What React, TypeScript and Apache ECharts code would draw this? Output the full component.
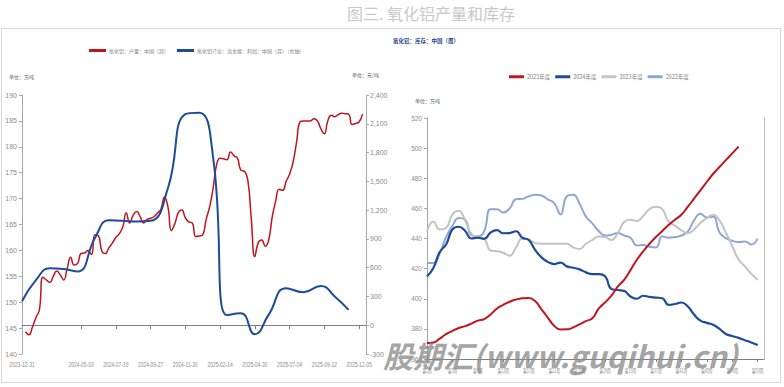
import React, { useEffect, useRef } from 'react';
import * as echarts from 'echarts';

// ---------- Left chart: production (weekly) & profit (monthly) ----------
const leftTickIndex = [0, 17, 27, 37, 47, 57, 67, 77, 87, 97];
const leftTickLabels = ['2023-12-31', '2024-05-03', '2024-07-19', '2024-09-27', '2024-11-30', '2025-02-14', '2025-04-30', '2025-07-04', '2025-09-12', '2025-12-05'];
const leftCategoryCount = 100;

const productionName = '氧化铝：产量：中国（周）';
const profitName = '氧化铝行业：冶金级：利润：中国（月）（右轴）';

const productionWeekly: (number | null)[] = [
  null, 144.3, 143.7, 145.2, 147, 148.5, 154.8, 154.3, 153.8, 155,
  156, 155.3, 154.3, 156.5, 158.7, 157.2, 157.5, 159.4, 159.5, 160,
  159.2, 163, 162.8, 159.8, 159.4, 160.5, 161.4, 162.5, 163.2, 164.5,
  167.2, 165.3, 166.8, 167.5, 166.5, 165.3, 166, 166.2, 166.5, 167.2,
  168, 170.3, 168.4, 163.8, 165.2, 167.3, 167.8, 166.3, 165.5, 165.3,
  162.7, 162.8, 163, 166, 168.4, 172, 176.5, 177.8, 177.7, 177.5,
  179, 178.3, 177.8, 175.5, 175.3, 173.5, 166, 158.8, 161.5, 162,
  160.8, 162, 166.4, 169.5, 171.8, 171.6, 173.3, 174.7, 177, 180.8,
  184.8, 185, 185, 185, 185.4, 185, 183.5, 182.5, 185, 186.1,
  185.8, 186.2, 186.5, 186.4, 186.3, 184.3, 184.5, 184.8, 186.3,
];

// [category index, value]
const profitMonthly: [number, number][] = [
  [0, 250], [4, 470], [8, 595], [12, 585], [16, 560], [21, 910], [25, 1095],
  [29, 1088], [33, 1082], [37, 1088], [42, 1430], [47, 2200], [51, 2215],
  [55, 1750], [59, 105], [63, 125], [67, -95], [71, 110], [76, 385],
  [81, 345], [86, 410], [90, 300], [94, 160],
];

// ---------- Right chart: inventory by week ----------
const weekCategories = Array.from({ length: 54 }, (_, i) => `第${i + 1}周`);
const weekTickIndex = [0, 4, 8, 12, 16, 20, 24, 28, 32, 36, 40, 44, 48, 52];
const yearNames = ['2025年度', '2024年度', '2023年度', '2022年度'];

const stock2025 = [
  370.6, 371, 373.5, 376.5, 378.7, 380.6, 381.8, 383.5, 385.5, 386.5,
  389.5, 393.5, 396, 398, 399.5, 400.3, 400.5, 398.5, 393, 387.5,
  382, 379.6, 379.7, 381, 383, 385.2, 387, 393.5, 397.5, 402,
  408, 412.6, 419, 425.9, 431.5, 436.5, 441, 445, 449, 452.5,
  455.8, 461, 466.5, 472, 477.5, 483, 487.5, 492, 496.5, 501,
];
const stock2024 = [
  414.8, 420.4, 431, 436, 446, 447.8, 445, 440, 440.5, 439.8,
  444, 445.5, 443.5, 443.6, 444.8, 440.5, 439, 432.5, 427.5, 424.5,
  423, 424, 421.5, 420.6, 419.5, 417.5, 416.3, 416.4, 415, 406.5,
  405.8, 405.2, 401.5, 400, 402, 401.2, 400.8, 400.3, 396, 396.5,
  397.5, 395, 389.5, 385.5, 384, 382.8, 380, 376.6, 375.3, 374,
  372.5, 371, 369.3,
];
const stock2023 = [
  444.7, 451.3, 446, 447, 456, 458.4, 452, 443, 440.5, 439.5,
  432, 431.5, 430.5, 428.5, 434, 440, 439.5, 437, 436.5, 436.5,
  436.5, 436.5, 436.5, 434, 433, 436.5, 439, 441.4, 441, 439,
  443.5, 451, 452.5, 451.5, 455, 459.5, 461, 459.5, 451, 448.5,
  445.5, 443.5, 446, 450.3, 453.5, 455.8, 452, 444, 435, 426,
  421.5, 416.5, 412.6,
];
const stock2022 = [
  423.7, 423.7, 430, 441, 448.5, 453.6, 452.5, 442, 441.4, 445,
  459.5, 459.5, 457.3, 460, 466, 466.3, 468, 469, 468.5, 466,
  463.5, 456, 468, 469, 463, 454.5, 450, 445, 442, 442.5,
  443.6, 442, 440.5, 435.4, 435.7, 434.5, 434, 441.5, 440.5, 441,
  442, 444.5, 452, 456.5, 454, 454.5, 444, 440.3, 438.5, 437.6,
  438, 436, 439.9,
];

const RED = '#C0151E';
const BLUE = '#1E4C98';
const GRAY = '#C3C3C3';
const LBLUE = '#8EA8D6';
const AXIS = '#A6A6A6';
const LABEL = '#8C8C8C';
const SANS = "'Liberation Sans', Arial, sans-serif";
const CJK = "'Noto Sans CJK SC', sans-serif";

export default function App() {
  const ref = useRef<HTMLDivElement>(null);

  useEffect(() => {
    if (!ref.current) return;
    const chart = echarts.init(ref.current, undefined, { renderer: 'svg' });
    const leftCats = Array.from({ length: leftCategoryCount }, (_, i) => String(i));
    const showLeftTick = (i: number) => leftTickIndex.includes(i);
    const yLabel = { color: LABEL, fontSize: 7, fontFamily: SANS };

    chart.setOption({
      animation: false,
      backgroundColor: '#ffffff',
      grid: [
        { left: 22, top: 95, width: 344, height: 259 },
        { left: 427, top: 118, width: 337, height: 241 },
      ],
      legend: [
        {
          data: [
            { name: productionName, icon: 'rect' },
            { name: profitName, icon: 'rect' },
          ],
          left: 89, top: 48, padding: 0, itemWidth: 17, itemHeight: 3, itemGap: 8,
          textStyle: { fontSize: 5, color: '#7f7f7f', fontFamily: CJK, padding: [0, 0, 0, -2] },
        },
        {
          data: yearNames.map((n) => ({ name: n, icon: 'rect' })),
          left: 509, top: 74, padding: 0, itemWidth: 15, itemHeight: 3, itemGap: 5,
          textStyle: { fontSize: 5.5, color: '#7f7f7f', fontFamily: CJK, padding: [0, 0, 0, -2] },
        },
      ],
      xAxis: [
        {
          type: 'category', gridIndex: 0, data: leftCats, boundaryGap: false,
          axisLine: { onZero: true, onZeroAxisIndex: 1, lineStyle: { color: '#7f7f7f', width: 1 } },
          axisTick: { show: true, interval: (i: number) => showLeftTick(i) && i > 0, length: 4, lineStyle: { color: '#7f7f7f' } },
          axisLabel: { show: false },
          splitLine: { show: false },
        },
        {
          type: 'category', gridIndex: 0, data: leftCats, boundaryGap: false, position: 'bottom',
          axisLine: { show: false, onZero: false },
          axisTick: { show: false },
          axisLabel: { show: false },
          splitLine: { show: false },
        },
        {
          type: 'category', gridIndex: 1, data: weekCategories, boundaryGap: false,
          axisLine: { lineStyle: { color: '#7f7f7f' } },
          axisTick: { interval: 3, length: 3, lineStyle: { color: '#7f7f7f' } },
          axisLabel: { show: false },
          splitLine: { show: false },
        },
      ],
      yAxis: [
        {
          type: 'value', gridIndex: 0, min: 140, max: 190, interval: 5, position: 'left',
          axisLine: { show: true, lineStyle: { color: AXIS } },
          axisTick: { show: true, length: 3, lineStyle: { color: AXIS } },
          axisLabel: { ...yLabel, margin: 5 },
          splitLine: { show: false },
        },
        {
          type: 'value', gridIndex: 0, min: -300, max: 2400, interval: 300, position: 'right',
          axisLine: { show: true, onZero: false, lineStyle: { color: AXIS } },
          axisTick: { show: true, length: 3, lineStyle: { color: AXIS } },
          axisLabel: {
            ...yLabel, margin: 4,
            formatter: (v: number) => v.toLocaleString('en-US'),
          },
          splitLine: { show: false },
        },
        {
          type: 'value', gridIndex: 1, min: 360, max: 520, interval: 20, position: 'left',
          axisLine: { show: true, lineStyle: { color: AXIS } },
          axisTick: { show: true, length: 3, lineStyle: { color: AXIS } },
          axisLabel: { ...yLabel, fontSize: 6.5, margin: 5 },
          splitLine: { show: false },
        },
        {
          type: 'value', gridIndex: 1, min: 360, max: 520, interval: 20, position: 'right',
          axisLine: { show: true, onZero: false, lineStyle: { color: '#BFBFBF' } },
          axisTick: { show: false },
          axisLabel: { show: false },
          splitLine: { show: false },
        },
      ],
      series: [
        {
          name: productionName, type: 'line', xAxisIndex: 0, yAxisIndex: 0,
          data: productionWeekly, smooth: 0.5, showSymbol: false,
          lineStyle: { color: RED, width: 1.5 }, itemStyle: { color: RED },
        },
        {
          name: profitName, type: 'line', xAxisIndex: 0, yAxisIndex: 1,
          data: profitMonthly, smooth: 0.5, showSymbol: false,
          lineStyle: { color: BLUE, width: 2 }, itemStyle: { color: BLUE },
        },
        {
          name: yearNames[3], type: 'line', xAxisIndex: 2, yAxisIndex: 2,
          data: stock2022, smooth: 0.5, showSymbol: false,
          lineStyle: { color: LBLUE, width: 2 }, itemStyle: { color: LBLUE },
        },
        {
          name: yearNames[2], type: 'line', xAxisIndex: 2, yAxisIndex: 2,
          data: stock2023, smooth: 0.5, showSymbol: false,
          lineStyle: { color: GRAY, width: 2 }, itemStyle: { color: GRAY },
        },
        {
          name: yearNames[1], type: 'line', xAxisIndex: 2, yAxisIndex: 2,
          data: stock2024, smooth: 0.5, showSymbol: false,
          lineStyle: { color: BLUE, width: 2.2 }, itemStyle: { color: BLUE },
        },
        {
          name: yearNames[0], type: 'line', xAxisIndex: 2, yAxisIndex: 2,
          data: stock2025, smooth: 0.5, showSymbol: false,
          lineStyle: { color: RED, width: 2 }, itemStyle: { color: RED },
        },
      ],
    });

    // Condensed axis labels, placed through the axes' own scales
    const leftLabelEls = leftTickIndex.map((idx, k) => ({
      type: 'text', id: `lx${k}`, silent: true,
      x: chart.convertToPixel({ xAxisIndex: 1 }, idx) as number,
      y: 360, scaleX: 0.66,
      style: { text: leftTickLabels[k], fontSize: 7.5, fill: LABEL, fontFamily: SANS, align: 'center', verticalAlign: 'top' },
    }));
    const weekLabelEls = weekTickIndex.map((idx, k) => ({
      type: 'text', id: `wx${k}`, silent: true,
      x: chart.convertToPixel({ xAxisIndex: 2 }, idx) as number,
      y: 367, scaleX: 0.62,
      style: { text: weekCategories[idx], fontSize: 6, fill: LABEL, fontFamily: CJK, align: 'center', verticalAlign: 'top' },
    }));

    chart.setOption({
      graphic: [
        {
          type: 'rect', id: 'box', silent: true, z: -1,
          shape: { x: 1.5, y: 28.5, width: 779, height: 354 },
          style: { fill: 'none', stroke: '#D9D9D9', lineWidth: 1 },
        },
        {
          type: 'text', id: 'title', left: 347, top: 5,
          style: { text: '图三. 氧化铝产量和库存', fontSize: 16, fill: '#C9C9C9', fontFamily: CJK },
        },
        {
          type: 'text', id: 'rtitle', left: 393, top: 38,
          style: { text: '氧化铝：库存：中国（周）', fontSize: 5.5, fontWeight: 'bold', fill: '#1F3F8F', fontFamily: CJK },
        },
        {
          type: 'text', id: 'u1', left: 9, top: 74,
          style: { text: '单位：万吨', fontSize: 5, fill: '#595959', fontFamily: CJK },
        },
        {
          type: 'text', id: 'u2', left: 352, top: 72,
          style: { text: '单位：元/吨', fontSize: 5, fill: '#595959', fontFamily: CJK },
        },
        {
          type: 'text', id: 'u3', left: 415, top: 98,
          style: { text: '单位：万吨', fontSize: 5, fill: '#595959', fontFamily: CJK },
        },
        ...leftLabelEls,
        ...weekLabelEls,
        {
          type: 'text', id: 'wm', left: 383, top: 340, z: 100, silent: true,
          style: {
            text: '股期汇(www.guqihui.cn)', fontSize: 30, fontWeight: 'bold', fontStyle: 'italic',
            fill: 'rgba(140,140,140,0.8)', fontFamily: CJK,
          },
        },
      ],
    });
    return () => chart.dispose();
  }, []);

  return (
    <div
      ref={ref}
      style={{ position: 'fixed', left: 0, top: 0, width: 784, height: 387, background: '#fff' }}
    />
  );
}
